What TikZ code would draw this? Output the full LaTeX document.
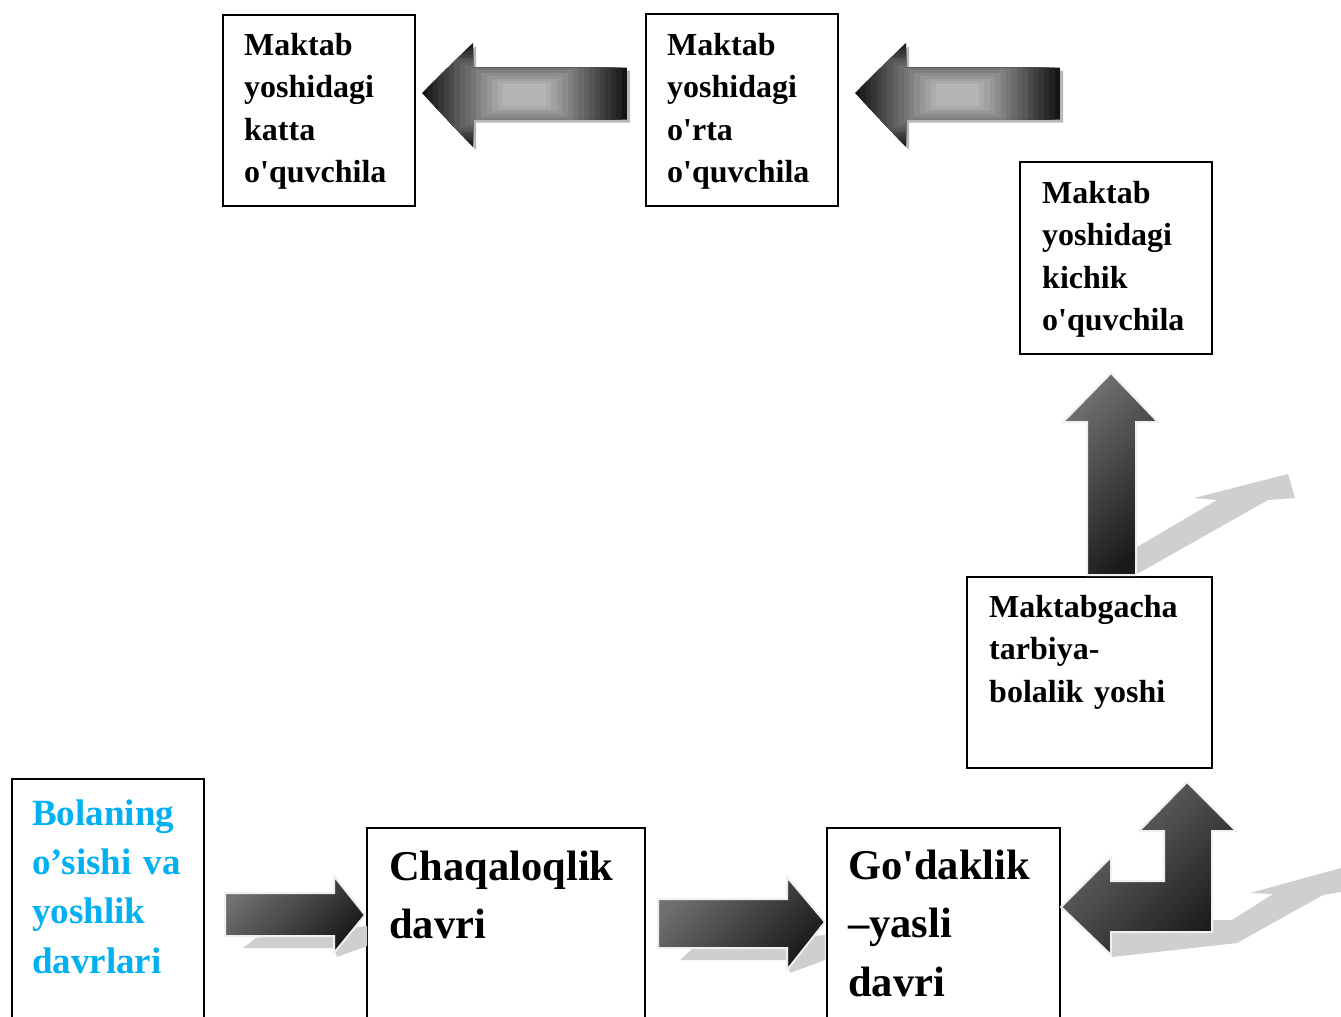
\documentclass[tikz,border=0pt]{standalone}
\usepackage{fontspec}
\setmainfont{Liberation Serif}[Ligatures=TeXOff]
\definecolor{cyantxt}{HTML}{00B0F0}

% left-pointing block arrow with a stepped "from centre" fill, tip at #1
\newcommand{\leftblock}[1]{%
  \begin{scope}[shift={(#1)}]
    \fill[black!28] (3,3) -- (54,-47) -- (54,-22.5) -- (208,-22.5) -- (208,29.5)
      -- (54,29.5) -- (54,57) -- cycle;
    \begin{scope}
      \clip (0,0) -- (51,-50) -- (51,-25.5) -- (205,-25.5) -- (205,26.5)
        -- (51,26.5) -- (51,54) -- cycle;
      \foreach \k in {0,...,15} {
        \pgfmathsetmacro{\s}{1-\k/19}
        \pgfmathtruncatemacro{\c}{92-4.2*\k}
        \fill[black!\c] ({102.5-102.5*\s},{2-52*\s}) rectangle ({102.5+102.5*\s},{2+52*\s});
      }
    \end{scope}
  \end{scope}}

\begin{document}
\begin{tikzpicture}[
  x=1pt, y=-1pt,
  box/.style={draw, line width=1.4pt, fill=white, inner sep=0pt, outer sep=0pt,
              anchor=north west},
  xtxt/.style={anchor=base west, inner sep=0pt, text width=240pt, align=left,
               font=\bfseries\fontsize{32}{42.5}\selectfont},
  xbig/.style={xtxt, font=\bfseries\fontsize{42.5}{58.5}\selectfont},
  xcyan/.style={xtxt, text=cyantxt, font=\bfseries\fontsize{37}{49.4}\selectfont},
  shd/.style={fill=black!19},
  garr/.style={top color=black!56, bottom color=black!90, shading angle=45,
               draw=black!6, line width=2pt}]

\path[use as bounding box, fill=white] (0,0) rectangle (1341,1017);
\clip (0,0) rectangle (1341,1017);

% boxes
\node[box, minimum width=192, minimum height=260] (bA) at (12,779) {};
\node[box, minimum width=278, minimum height=220] (bB) at (367,828) {};
\node[box, minimum width=233, minimum height=220] (bC) at (827,828) {};
\node[box, minimum width=245, minimum height=191] (bD) at (967,577) {};
\node[box, minimum width=192, minimum height=192] (bE) at (1020,162) {};
\node[box, minimum width=192, minimum height=192] (bF) at (646,14) {};
\node[box, minimum width=192, minimum height=191] (bG) at (223,15) {};

% texts
\node[xcyan] (tA) at ([shift={(20,46)}]bA.north west) {Bolaning\\o’sishi va\\yoshlik\\davrlari};
\node[xbig] (tB) at ([shift={(22,52)}]bB.north west) {Chaqaloqlik\\davri};
\node[xbig] (tC) at ([shift={(21,51)}]bC.north west) {Go'daklik\\–yasli\\davri};
\node[xtxt] (tD) at ([shift={(22,40)}]bD.north west) {Maktabgacha\\tarbiya-\\bolalik yoshi};
\node[xtxt] (tE) at ([shift={(22,41)}]bE.north west) {Maktab\\yoshidagi\\kichik\\o'quvchila};
\node[xtxt] (tF) at ([shift={(21,41)}]bF.north west) {Maktab\\yoshidagi\\o'rta\\o'quvchila};
\node[xtxt] (tG) at ([shift={(21,40)}]bG.north west) {Maktab\\yoshidagi\\katta\\o'quvchila};

% shadows
\fill[shd] (243,948) -- (256,938) -- (367,926) -- (367,946) -- (337,957) -- (334,948) -- cycle;
\fill[shd] (680,960) -- (693,948) -- (825,935) -- (825,960) -- (790,973) -- (787,960) -- cycle;
\fill[shd] (1137,547) -- (1217,500) -- (1194,498) -- (1288,474) -- (1295,498) -- (1268,500)
  -- (1137,574) -- cycle;
\fill[shd] (1112,933) -- (1213,932) -- (1213,920) -- (1232,920) -- (1273,894) -- (1250,893)
  -- (1341,868) -- (1341,892) -- (1323,895) -- (1237,943) -- (1112,957) -- cycle;

% block arrows
\shade[garr] (225,893) -- (334,893) -- (334,876) -- (365,915) -- (334,953) -- (334,936)
  -- (225,936) -- cycle;
\shade[garr] (658,899) -- (787,899) -- (787,877) -- (825,922) -- (787,970) -- (787,948)
  -- (658,948) -- cycle;
\shade[garr] (1111,373) -- (1158,422) -- (1136,422) -- (1136,575) -- (1087,575) -- (1087,422)
  -- (1063,422) -- cycle;
\shade[garr] (1061,907) -- (1111,857) -- (1111,881) -- (1164,881) -- (1164,831) -- (1139,831)
  -- (1187,782) -- (1236,831) -- (1212,831) -- (1212,932) -- (1111,932) -- (1111,955) -- cycle;

\coordinate (tipG) at (422,93);
\coordinate (tipF) at (855,93);
\leftblock{tipG}
\leftblock{tipF}
\end{tikzpicture}
\end{document}
